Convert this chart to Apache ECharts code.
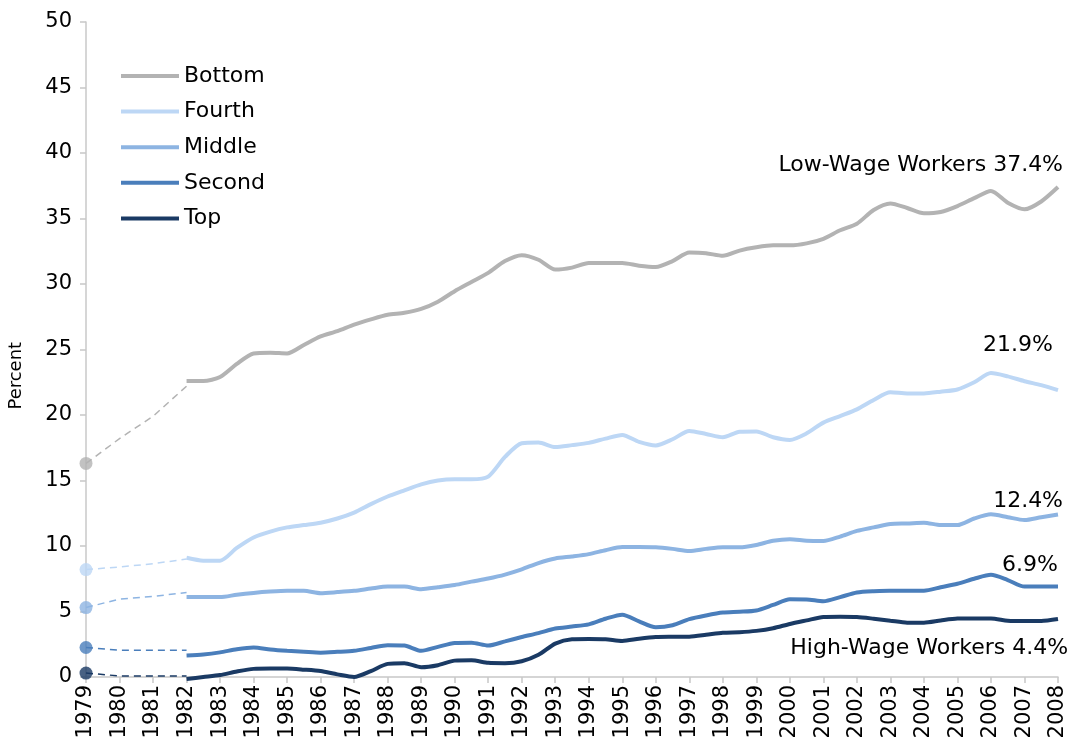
<!DOCTYPE html>
<html>
<head>
<meta charset="utf-8">
<script src="https://cdn.jsdelivr.net/npm/echarts@6/dist/echarts.min.js"></script>
<style>
html,body{margin:0;padding:0;background:#fff;}
#c{width:1069px;height:748px;}
</style>
</head>
<body>
<div id="c"></div>
<script>
// ---- data ----
const seriesNames = ['Bottom', 'Fourth', 'Middle', 'Second', 'Top'];
const years = [1982,1982.5,1983,1983.5,1984,1984.5,1985,1985.5,1986,1986.5,1987,1987.5,1988,1988.5,1989,1989.5,1990,1990.5,1991,1991.5,1992,1992.5,1993,1993.5,1994,1994.5,1995,1995.5,1996,1996.5,1997,1997.5,1998,1998.5,1999,1999.5,2000,2000.5,2001,2001.5,2002,2002.5,2003,2003.5,2004,2004.5,2005,2005.5,2006,2006.5,2007,2007.5,2008];
const bottom = [22.6,22.6,22.9,23.9,24.7,24.75,24.7,25.35,26.0,26.4,26.9,27.3,27.65,27.8,28.1,28.65,29.45,30.15,30.85,31.75,32.2,31.85,31.1,31.25,31.6,31.6,31.6,31.4,31.3,31.75,32.4,32.35,32.15,32.55,32.8,32.95,32.95,33.1,33.45,34.1,34.6,35.65,36.15,35.8,35.4,35.5,35.95,36.55,37.1,36.2,35.7,36.3,37.4];
const fourth = [9.1,8.88,8.88,9.85,10.65,11.1,11.42,11.6,11.78,12.1,12.55,13.2,13.78,14.25,14.7,15.0,15.1,15.1,15.3,16.8,17.85,17.9,17.55,17.7,17.87,18.2,18.48,17.95,17.68,18.15,18.78,18.55,18.3,18.72,18.75,18.3,18.1,18.6,19.42,19.92,20.43,21.15,21.73,21.65,21.65,21.78,21.95,22.5,23.2,22.95,22.58,22.28,21.9];
const middle = [6.1,6.1,6.1,6.28,6.42,6.52,6.58,6.58,6.4,6.48,6.58,6.75,6.9,6.9,6.7,6.85,7.02,7.28,7.52,7.82,8.22,8.7,9.05,9.2,9.38,9.68,9.92,9.92,9.9,9.78,9.62,9.78,9.9,9.9,10.08,10.4,10.52,10.4,10.38,10.72,11.15,11.42,11.68,11.72,11.78,11.6,11.6,12.1,12.42,12.2,11.98,12.2,12.4];
const second = [1.65,1.72,1.88,2.12,2.25,2.1,2.0,1.93,1.86,1.92,2.0,2.22,2.43,2.4,2.0,2.3,2.6,2.62,2.4,2.72,3.05,3.35,3.7,3.85,4.02,4.45,4.76,4.25,3.8,3.95,4.42,4.7,4.92,4.98,5.08,5.5,5.93,5.92,5.78,6.1,6.45,6.55,6.58,6.59,6.59,6.85,7.12,7.5,7.8,7.4,6.9,6.9,6.9];
const top5 = [-0.15,0.0,0.15,0.42,0.62,0.64,0.64,0.56,0.45,0.2,0.0,0.45,1.0,1.05,0.75,0.9,1.25,1.28,1.08,1.05,1.2,1.7,2.55,2.88,2.9,2.88,2.75,2.92,3.05,3.07,3.08,3.22,3.38,3.42,3.52,3.72,4.05,4.32,4.58,4.6,4.58,4.45,4.3,4.15,4.15,4.32,4.46,4.47,4.47,4.3,4.27,4.27,4.42];

// early (dashed) segment, 1979-1982
const earlyYears = [1979, 1980, 1981, 1982];
const bottomEarly = [16.3, 18.2, 19.9, 22.2];
const fourthEarly = [8.2, 8.4, 8.65, 9.0];
const middleEarly = [5.3, 5.95, 6.15, 6.45];
const secondEarly = [2.25, 2.05, 2.05, 2.05];
const topEarly = [0.3, 0.08, 0.08, 0.08];

const yTicks = [0,5,10,15,20,25,30,35,40,45,50];

// annotations: [x(year), y(value), text]
const annotations = [
  [2008.15, 39.1, 'Low-Wage Workers 37.4%'],
  [2007.85, 25.35, '21.9%'],
  [2008.15, 13.45, '12.4%'],
  [2008.0, 8.55, '6.9%'],
  [2008.3, 2.2, 'High-Wage Workers 4.4%']
];

const colors = ['#b3b3b3', '#bdd7f5', '#8db4e2', '#4a7ebb', '#1a3a64'];
const mainData = [bottom, fourth, middle, second, top5];
const earlyData = [bottomEarly, fourthEarly, middleEarly, secondEarly, topEarly];

const FONT = 'DejaVu Sans, Verdana, sans-serif';
const dom = document.getElementById('c');
const chart = echarts.init(dom, null, {renderer: 'canvas', width: 1069, height: 748});

const series = [];
seriesNames.forEach((name, i) => {
  series.push({
    name: name,
    type: 'line',
    data: years.map((y, k) => [y, mainData[i][k]]),
    showSymbol: false,
    smooth: 0.25,
    clip: false,
    lineStyle: {color: colors[i], width: 4},
    itemStyle: {color: colors[i]},
    z: 10 - i
  });
  series.push({
    name: name + ' (early)',
    type: 'line',
    data: earlyYears.map((y, k) => [y, earlyData[i][k]]),
    showSymbol: false,
    clip: false,
    lineStyle: {color: colors[i], width: 1.5, type: [7, 5]},
    itemStyle: {color: colors[i]},
    z: 5
  });
  series.push({
    name: name + ' (1979)',
    type: 'scatter',
    data: [[earlyYears[0], earlyData[i][0]]],
    symbolSize: 13,
    itemStyle: {color: colors[i]},
    z: 6
  });
});

chart.setOption({
  animation: false,
  backgroundColor: '#fff',
  grid: {left: 86, right: 11, top: 22, bottom: 71, containLabel: false, outerBoundsMode: 'none'},
  legend: {
    data: seriesNames,
    orient: 'vertical',
    left: 116,
    top: 60,
    icon: 'rect',
    itemWidth: 58,
    itemHeight: 4,
    itemGap: 13.6,
    textStyle: {fontFamily: FONT, fontSize: 22, color: '#000', lineHeight: 22}
  },
  xAxis: {
    type: 'value',
    min: 1979, max: 2008, interval: 1,
    axisLine: {show: true, lineStyle: {color: '#c8c8c8', width: 1.5}},
    axisTick: {show: true, length: 6, lineStyle: {color: '#c8c8c8', width: 1.5}},
    splitLine: {show: false},
    axisLabel: {rotate: 90, margin: 8, fontFamily: FONT, fontSize: 21, color: '#000',
      formatter: v => String(v)}
  },
  yAxis: {
    type: 'value',
    min: yTicks[0], max: yTicks[yTicks.length - 1], interval: 5,
    axisLine: {show: true, lineStyle: {color: '#c8c8c8', width: 1.5}},
    axisTick: {show: true, length: 6, lineStyle: {color: '#c8c8c8', width: 1.5}},
    splitLine: {show: false},
    axisLabel: {margin: 14, fontFamily: FONT, fontSize: 21, color: '#000'}
  },
  series: series
});

// annotations anchored to data coordinates
const graphics = annotations.map(a => {
  const p = chart.convertToPixel({gridIndex: 0}, [a[0], a[1]]);
  return {
    type: 'text', x: p[0], y: p[1],
    style: {text: a[2], fill: '#000', font: '22px ' + FONT, align: 'right', verticalAlign: 'middle'}
  };
});
const mid = chart.convertToPixel({gridIndex: 0}, [1979, 23]);
graphics.push({
  type: 'text', x: 16, y: mid[1], rotation: Math.PI / 2,
  style: {text: 'Percent', fill: '#000', font: '18px ' + FONT, align: 'center', verticalAlign: 'middle'}
});
chart.setOption({graphic: graphics});
</script>
</body>
</html>
